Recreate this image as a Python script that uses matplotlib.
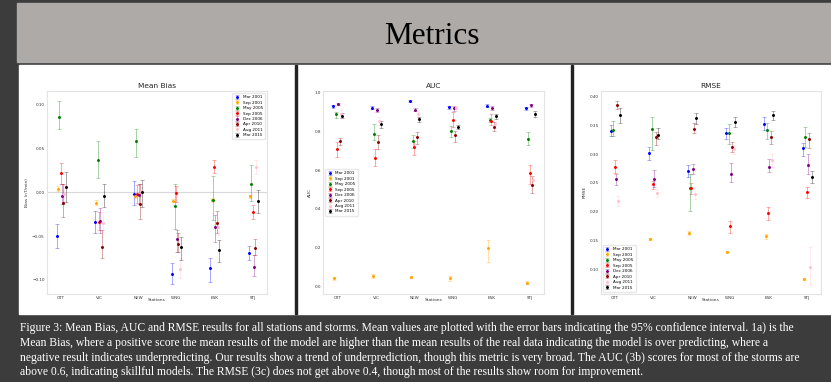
import numpy as np
import matplotlib.pyplot as plt
from matplotlib.patches import Rectangle
from matplotlib.colors import to_rgba

# Datos
stations = ['OTT', 'VIC', 'NEW', 'WNG', 'ESK', 'STJ']
storms = ['Mar 2001', 'Sep 2001', 'May 2005', 'Sep 2005', 'Dec 2006', 'Apr 2010', 'Aug 2011', 'Mar 2015']
colors = ['blue', 'orange', 'green', 'red', 'purple', 'darkred', 'pink', 'black']

# Mean Bias: one row per storm, one column per station
bias_mean = [[-0.050, -0.034, -0.002, -0.094, -0.087, -0.069],
             [0.004, -0.012, -0.004, -0.0095, -0.009, -0.004],
             [0.086, 0.037, 0.059, -0.016, -0.009, 0.010],
             [0.022, -0.034, -0.0015, -0.001, 0.029, -0.022],
             [-0.004, -0.033, -0.003, -0.053, -0.040, -0.085],
             [-0.012, -0.062, -0.013, -0.059, -0.035, -0.064],
             [-0.002, -0.035, 0.001, -0.088, -0.040, 0.029],
             [0.006, -0.004, 0.0, -0.063, -0.066, -0.010]]
bias_low = [[-0.064, -0.046, -0.015, -0.105, -0.103, -0.078],
            [0.0015, -0.014, -0.006, -0.011, -0.011, -0.006],
            [0.072, 0.016, 0.041, -0.042, -0.032, -0.010],
            [0.010, -0.043, -0.012, -0.011, 0.022, -0.031],
            [-0.013, -0.047, -0.013, -0.068, -0.057, -0.096],
            [-0.028, -0.075, -0.031, -0.068, -0.046, -0.072],
            [-0.012, -0.047, -0.004, -0.098, -0.049, 0.021],
            [-0.011, -0.017, -0.017, -0.077, -0.080, -0.024]]
bias_high = [[-0.036, -0.021, 0.013, -0.081, -0.075, -0.061],
             [0.007, -0.009, -0.0015, -0.008, -0.007, -0.003],
             [0.105, 0.059, 0.073, 0.009, 0.019, 0.031],
             [0.034, -0.023, 0.008, 0.007, 0.037, -0.014],
             [0.010, -0.018, 0.009, -0.043, -0.026, -0.072],
             [0.009, -0.043, 0.009, -0.047, -0.021, -0.053],
             [0.008, -0.023, 0.006, -0.075, -0.031, 0.037],
             [0.023, 0.010, 0.014, -0.051, -0.055, 0.003]]

# AUC
auc_mean = [[0.928, 0.921, 0.955, 0.925, 0.931, 0.918],
            [0.043, 0.053, 0.048, 0.043, 0.197, 0.021],
            [0.887, 0.787, 0.750, 0.799, 0.856, 0.758],
            [0.708, 0.662, 0.717, 0.859, 0.852, 0.585],
            [0.940, 0.911, 0.911, 0.918, 0.919, 0.935],
            [0.750, 0.744, 0.770, 0.780, 0.822, 0.523],
            [0.890, 0.852, 0.887, 0.918, 0.835, 0.550],
            [0.878, 0.835, 0.861, 0.822, 0.877, 0.889]]
auc_low = [[0.921, 0.913, 0.949, 0.916, 0.923, 0.909],
           [0.033, 0.043, 0.043, 0.031, 0.125, 0.012],
           [0.870, 0.755, 0.715, 0.772, 0.846, 0.727],
           [0.667, 0.619, 0.678, 0.820, 0.832, 0.527],
           [0.935, 0.900, 0.902, 0.905, 0.909, 0.923],
           [0.729, 0.707, 0.736, 0.743, 0.801, 0.480],
           [0.866, 0.832, 0.870, 0.905, 0.815, 0.525],
           [0.866, 0.815, 0.846, 0.810, 0.865, 0.875]]
auc_high = [[0.935, 0.928, 0.960, 0.931, 0.938, 0.926],
            [0.050, 0.063, 0.053, 0.057, 0.240, 0.029],
            [0.897, 0.835, 0.780, 0.827, 0.870, 0.794],
            [0.743, 0.710, 0.750, 0.897, 0.887, 0.626],
            [0.943, 0.921, 0.919, 0.932, 0.928, 0.942],
            [0.767, 0.779, 0.794, 0.803, 0.846, 0.568],
            [0.913, 0.871, 0.900, 0.930, 0.852, 0.570],
            [0.892, 0.852, 0.875, 0.832, 0.890, 0.902]]

# RMSE
rmse_mean = [[0.340, 0.302, 0.271, 0.337, 0.353, 0.310],
             [0.137, 0.153, 0.163, 0.130, 0.157, 0.083],
             [0.342, 0.343, 0.241, 0.336, 0.342, 0.330],
             [0.278, 0.248, 0.241, 0.175, 0.198, 0.234],
             [0.256, 0.256, 0.274, 0.266, 0.277, 0.281],
             [0.386, 0.330, 0.344, 0.313, 0.330, 0.327],
             [0.219, 0.233, 0.231, 0.309, 0.289, 0.103],
             [0.368, 0.334, 0.363, 0.356, 0.368, 0.261]]
rmse_low = [[0.331, 0.289, 0.260, 0.327, 0.342, 0.297],
            [0.135, 0.151, 0.160, 0.129, 0.153, 0.081],
            [0.331, 0.308, 0.201, 0.317, 0.327, 0.313],
            [0.268, 0.239, 0.231, 0.162, 0.185, 0.223],
            [0.246, 0.243, 0.266, 0.252, 0.269, 0.265],
            [0.378, 0.316, 0.336, 0.304, 0.317, 0.310],
            [0.209, 0.225, 0.222, 0.300, 0.278, 0.073],
            [0.355, 0.326, 0.353, 0.348, 0.359, 0.249]]
rmse_high = [[0.351, 0.313, 0.282, 0.345, 0.365, 0.320],
             [0.140, 0.154, 0.166, 0.131, 0.161, 0.084],
             [0.358, 0.365, 0.265, 0.352, 0.355, 0.348],
             [0.289, 0.254, 0.249, 0.184, 0.208, 0.242],
             [0.265, 0.272, 0.283, 0.285, 0.291, 0.300],
             [0.393, 0.339, 0.355, 0.322, 0.341, 0.337],
             [0.228, 0.239, 0.243, 0.316, 0.300, 0.139],
             [0.380, 0.346, 0.371, 0.364, 0.376, 0.271]]

caption = [
    "Figure 3: Mean Bias, AUC and RMSE results for all stations and storms. Mean values are plotted with the error bars indicating the 95% confidence interval. 1a) is the",
    "Mean Bias, where a positive score the mean results of the model are higher than the mean results of the real data indicating the model is over predicting, where a",
    "negative result indicates underpredicting. Our results show a trend of underprediction, though this metric is very broad. The AUC (3b) scores for most of the storms are",
    "above 0.6, indicating skillful models. The RMSE (3c) does not get above 0.4, though most of the results show room for improvement.",
]

W, H = 831, 382
fig = plt.figure(figsize=(W / 100, H / 100), dpi=100)
fig.patch.set_facecolor('#3c3c3c')


def box(x0, y0, x1, y1, color):
    # rectangulo en pixeles de la figura (origen arriba a la izquierda)
    fig.patches.append(Rectangle((x0 / W, 1 - y1 / H), (x1 - x0) / W, (y1 - y0) / H,
                                 transform=fig.transFigure, color=color, zorder=-10))


box(17, 3, 831, 62, '#aeaaa8')
box(19, 65, 831, 314, 'white')
box(294.5, 65, 296.5, 314, '#222222')
box(571, 65, 573, 314, '#222222')

fig.text(432 / W, 1 - 36 / H, 'Metrics', family='Liberation Serif', fontsize=22.5,
         ha='center', va='center', color='black')
for k, line in enumerate(caption):
    fig.text(20 / W, 1 - (328 + k * 14.8) / H, line, family='Liberation Serif',
             fontsize=8.4, color='white', va='center', ha='left')

x = np.arange(len(stations))
offsets = (np.arange(len(storms)) - 3.5) * 0.033


def panel(rect, mean, low, high, title, ylabel, ylim, yticks, legend_loc, fmt):
    ax = fig.add_axes(rect)
    for i in range(len(storms)):
        m = np.array(mean[i])
        err = [m - np.array(low[i]), np.array(high[i]) - m]
        ax.errorbar(x + offsets[i], m, yerr=err, fmt='.', color=colors[i],
                    ecolor=to_rgba(colors[i], 0.35), markersize=2.3, elinewidth=0.7,
                    capsize=1.4, capthick=0.6, label=storms[i])
    ax.set_xticks(x)
    ax.set_xticklabels(stations)
    ax.set_yticks(yticks)
    ax.set_yticklabels([fmt.format(v) for v in yticks])
    ax.set_ylim(ylim)
    ax.set_xlim(-0.38, 5.36)
    ax.tick_params(length=0, labelsize=3, pad=1.5, colors='#333333')
    for s in ax.spines.values():
        s.set_color('#e3e3e3')
        s.set_linewidth(0.8)
    ax.set_title(title, fontsize=5.3, pad=2, color='#222222')
    ax.set_xlabel('Stations', fontsize=3.2, labelpad=-1.5, color='#333333')
    ax.set_ylabel(ylabel, fontsize=3.2, labelpad=2, color='#333333')
    ax.legend(loc=legend_loc, fontsize=3, handlelength=1.2, borderpad=0.5,
              labelspacing=0.35, framealpha=0.8, edgecolor='#e3e3e3')
    return ax


ax1 = panel([46.7 / W, 1 - 293.7 / H, 220.3 / W, 202.7 / H], bias_mean, bias_low, bias_high,
            'Mean Bias', 'Bias (nT/min)', (-0.116, 0.116), [-0.10, -0.05, 0.0, 0.05, 0.10],
            'upper right', '{:.2f}')
ax1.axhline(0, color='#d8d8d8', linewidth=0.8, zorder=0)
ax1.set_yticklabels(['\u22120.10', '\u22120.05', '0.00', '0.05', '0.10'])

panel([323 / W, 1 - 293.7 / H, 221 / W, 202.7 / H], auc_mean, auc_low, auc_high,
      'AUC', 'AUC', (-0.036, 1.007), [0.0, 0.2, 0.4, 0.6, 0.8, 1.0], 'center left', '{:.1f}')

panel([600.7 / W, 1 - 293.7 / H, 220.3 / W, 202.7 / H], rmse_mean, rmse_low, rmse_high,
      'RMSE', 'RMSE', (0.057, 0.41), [0.10, 0.15, 0.20, 0.25, 0.30, 0.35, 0.40],
      'lower left', '{:.2f}')

plt.savefig('out.png', dpi=100, facecolor=fig.get_facecolor())
